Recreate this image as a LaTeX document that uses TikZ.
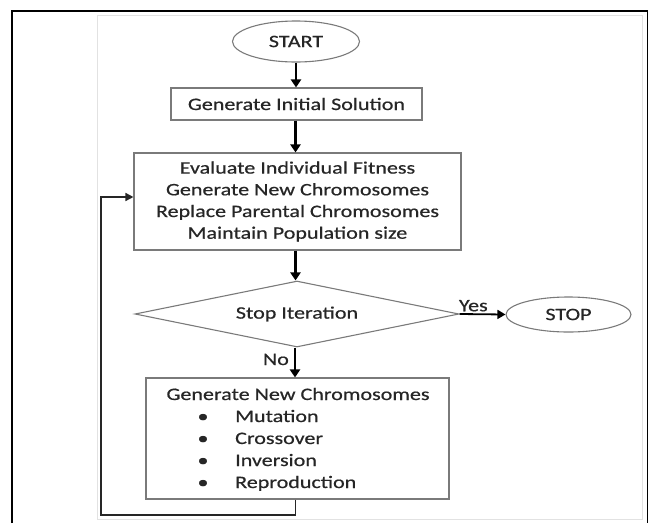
\documentclass[tikz,border=0pt]{standalone}
\usepackage{fontspec}
\setmainfont{Carlito}[FakeStretch=1.26,FakeBold=0.6]
\usetikzlibrary{shapes.geometric,arrows.meta}
\definecolor{boxgrey}{HTML}{7A7A7A}
\definecolor{txtcol}{HTML}{262626}
\definecolor{paleframe}{HTML}{E2E2E2}
\tikzset{
  shapebox/.style={draw=boxgrey,line width=1.1pt,inner sep=0pt,text=txtcol,
    font=\fontsize{17.5}{21.7}\selectfont,align=center},
  labeltext/.style={inner sep=0pt,text=txtcol,font=\fontsize{17.5}{21.7}\selectfont,
    text height=12pt,text depth=4pt},
  flowarrow/.style={draw=black,line width=2.3pt,-{Triangle[length=8pt,width=10pt]}},
  yesarrow/.style={draw=black,line width=1.8pt,-{Triangle[length=8pt,width=9pt]}},
  loopline/.style={draw=black!85,line width=1.5pt,-{Triangle[length=8pt,width=8pt]}}
}
\begin{document}
\begin{tikzpicture}[x=1pt,y=-1pt]
\useasboundingbox (0,0) rectangle (649,523);
% frames
\draw[paleframe,line width=0.8pt] (97,15) rectangle (642,519);
\draw[black,line width=1.6pt] (12,523) -- (12,11) -- (647.5,11) -- (647.5,523);
% nodes
\node[shapebox,ellipse,minimum width=127pt,minimum height=41pt] (start) at (296,41.5) {START};
\node[shapebox,rectangle,minimum width=251pt,minimum height=32pt] (gen) at (296.5,104) {Generate Initial Solution};
\node[shapebox,rectangle,minimum width=327pt,minimum height=97pt] (evalbox) at (297.5,201.5)
  {Evaluate Individual Fitness\\Generate New Chromosomes\\Replace Parental Chromosomes\\Maintain Population size};
\node[shapebox,diamond,aspect=4.9,minimum width=324pt,minimum height=66pt] (stopit) at (297,314) {Stop Iteration};
\node[shapebox,ellipse,minimum width=125pt,minimum height=35pt] (stopn) at (568.5,314.5) {STOP};
\node[shapebox,rectangle,minimum width=303pt,minimum height=121pt] (newc) at (297.5,438.5) {};
\node[labeltext] (newtitle) at (298,396) {Generate New Chromosomes};
\node[labeltext] (b1) at (203,418) {•};
\node[labeltext] (b2) at (203,440) {•};
\node[labeltext] (b3) at (203,462) {•};
\node[labeltext] (b4) at (203,484) {•};
\node[labeltext,anchor=west] (i1) at (235,418) {Mutation};
\node[labeltext,anchor=west] (i2) at (235,440) {Crossover};
\node[labeltext,anchor=west] (i3) at (235,462) {Inversion};
\node[labeltext,anchor=west] (i4) at (235,484) {Reproduction};
% connectors
\draw[flowarrow] (start.south) -- (start.south |- gen.north);
\draw[flowarrow] ([xshift=-1pt]gen.south) -- ([xshift=-1pt]gen.south |- evalbox.north);
\draw[flowarrow] ([xshift=-2pt]evalbox.south) -- ([xshift=-2pt]evalbox.south |- stopit.north);
\draw[flowarrow] ([xshift=-2pt]stopit.south) -- ([xshift=-2pt]stopit.south |- newc.north)
  node[labeltext,pos=0.45,left=5pt] (nolab) {No};
\draw[yesarrow] (stopit.east) -- (stopn.west)
  node[labeltext,pos=0.3,above=-2pt] (yeslab) {Yes};
\coordinate (lc) at (101,515);
\draw[loopline] ([xshift=-2pt]newc.south) |- (lc) |- ([yshift=4.5pt]evalbox.west);
\end{tikzpicture}
\end{document}
